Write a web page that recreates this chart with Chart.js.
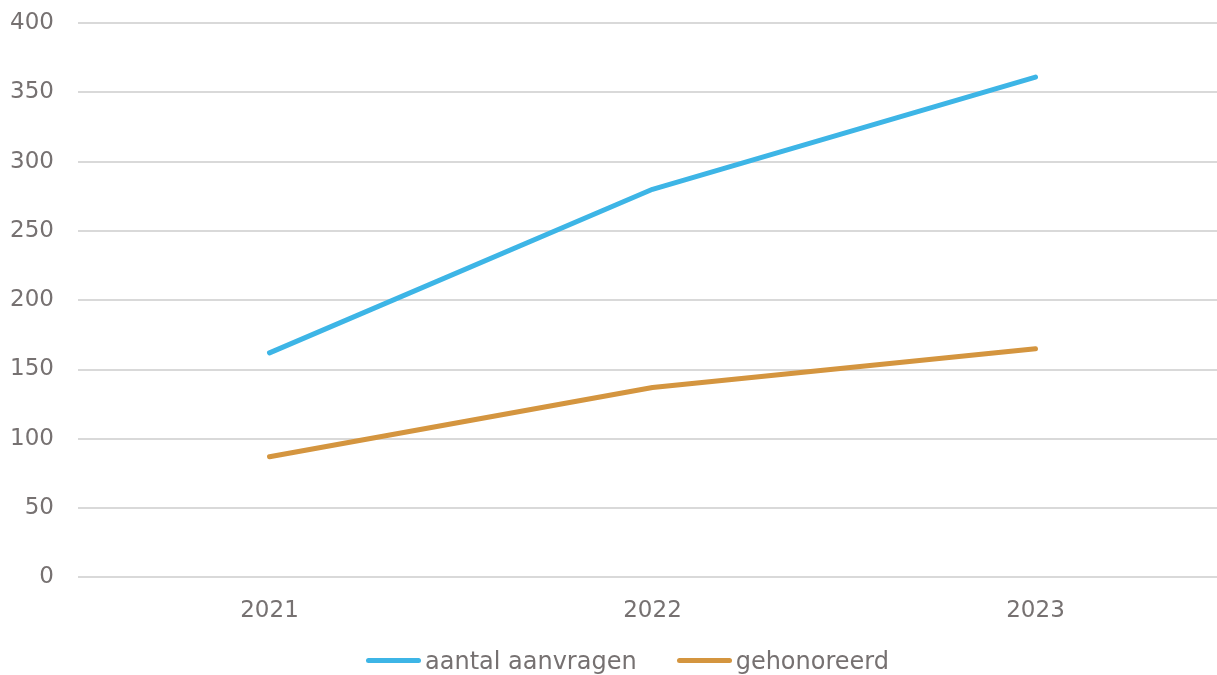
<!DOCTYPE html>
<html>
<head>
<meta charset="utf-8">
<script src="https://cdn.jsdelivr.net/npm/chart.js@4/dist/chart.umd.min.js"></script>
<style>
  html, body { margin: 0; padding: 0; background: #fff; overflow: hidden; width: 1217px; height: 675px; }
  #wrap { position: absolute; left: 0; top: -2px; width: 1227px; height: 647px; }
  #legend { position: absolute; left: 19px; top: 643px; width: 1217px; height: 35px; display: flex; justify-content: center; align-items: center; font-family: "DejaVu Sans", Verdana, sans-serif; font-size: 24px; color: #767171; }
  .item { display: flex; align-items: center; margin: 0 20px; }
  .swatch { width: 55px; height: 5px; border-radius: 3px; margin-right: 4px; }
</style>
</head>
<body>
<div id="wrap"><canvas id="c"></canvas></div>
<div id="legend"></div>
<script>
const categories = ["2021", "2022", "2023"];
const aantalAanvragen = [162, 280, 361];
const gehonoreerd = [87, 137, 165];
const seriesNames = ["aantal aanvragen", "gehonoreerd"];
const seriesColors = ["#3DB5E6", "#D4953F"];

const textColor = "#767171";
const fontFamily = '"DejaVu Sans", Verdana, sans-serif';

const datasets = [aantalAanvragen, gehonoreerd].map((d, i) => ({
  label: seriesNames[i],
  data: d,
  borderColor: seriesColors[i],
  backgroundColor: seriesColors[i],
  borderWidth: 5,
  borderCapStyle: 'round',
  borderJoinStyle: 'round',
  pointRadius: 0,
  pointHoverRadius: 0,
  tension: 0,
  fill: false
}));

new Chart(document.getElementById('c'), {
  type: 'line',
  data: { labels: categories, datasets },
  options: {
    responsive: true,
    maintainAspectRatio: false,
    animation: false,
    layout: { padding: { left: 11, top: 25, right: 0, bottom: 0 } },
    plugins: { legend: { display: false }, tooltip: { enabled: false } },
    scales: {
      x: {
        offset: true,
        grid: { display: false, drawTicks: false },
        border: { display: false },
        ticks: { color: textColor, font: { family: fontFamily, size: 23 }, padding: 20 }
      },
      y: {
        min: 0, max: 400,
        afterFit: (s) => { s.width = 67; s.paddingTop = 0; s.paddingBottom = 0; },
        ticks: { stepSize: 50, color: textColor, font: { family: fontFamily, size: 23 }, padding: 24 },
        grid: { color: "#D9D9D9", lineWidth: 2, drawTicks: false },
        border: { display: false }
      }
    }
  }
});

const legend = document.getElementById('legend');
seriesNames.forEach((n, i) => {
  const it = document.createElement('div');
  it.className = 'item';
  const sw = document.createElement('div');
  sw.className = 'swatch';
  sw.style.background = seriesColors[i];
  const tx = document.createElement('span');
  tx.textContent = n;
  it.appendChild(sw); it.appendChild(tx);
  legend.appendChild(it);
});
</script>
</body>
</html>
